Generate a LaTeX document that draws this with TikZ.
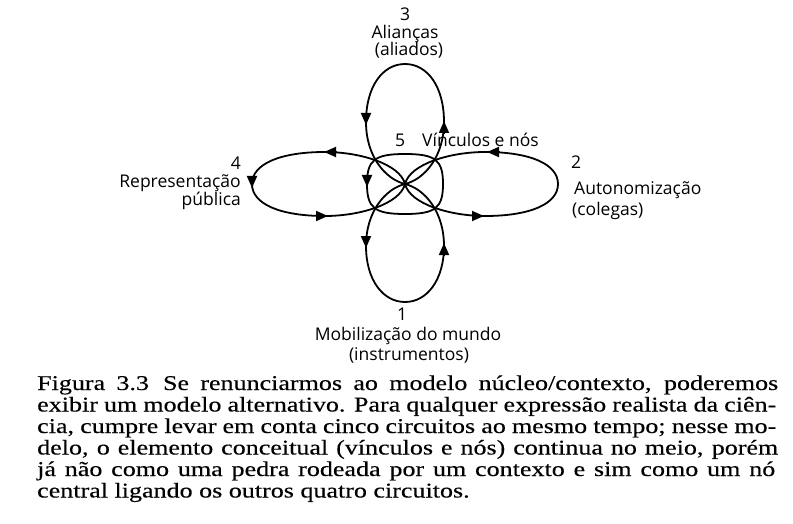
\documentclass[tikz,border=0pt]{standalone}
\usepackage{fontspec}
\setmainfont{Liberation Serif}
\newfontfamily\labfont{Open Sans}
\newfontfamily\capfont[FakeStretch=1.24,FakeBold=0.3]{Liberation Serif}
\usetikzlibrary{arrows.meta}
\begin{document}
\begin{tikzpicture}[x=1pt,y=-1pt,
  curve/.style={line width=1.8pt, line cap=round, line join=round},
  tipline/.style={-{Triangle[length=12pt,width=10pt]}, line width=1.8pt},
  lab/.style={font=\labfont\fontsize{17.5}{19}\selectfont, inner sep=0pt},
  capline/.style={font=\capfont\fontsize{21}{21.5}\selectfont, inner sep=0pt, anchor=base west}]
\useasboundingbox (0,0) rectangle (793,524);
\fill[white] (0,0) rectangle (793,524);
\begin{scope}[shift={(405,184)}]
  \coordinate (C) at (0,0);
  % top petal (3)
  \draw[curve] (C) .. controls (20,-5) and (39,-28) .. (39,-62)
     .. controls (39,-98) and (22,-120) .. (0,-120)
     .. controls (-22,-120) and (-39,-98) .. (-39,-62)
     .. controls (-39,-28) and (-20,-5) .. (C);
  % bottom petal (1)
  \draw[curve] (C) .. controls (-20,5) and (-39,28) .. (-39,62)
     .. controls (-39,96) and (-22,118) .. (0,118)
     .. controls (22,118) and (39,96) .. (39,62)
     .. controls (39,28) and (20,5) .. (C);
  % left petal (4)
  \draw[curve] (C) .. controls (-5,-20) and (-45,-32) .. (-80,-32)
     .. controls (-125,-32) and (-153,-20) .. (-153,0)
     .. controls (-153,20) and (-125,32) .. (-80,32)
     .. controls (-45,32) and (-5,20) .. (C);
  % right petal (2)
  \draw[curve] (C) .. controls (5,20) and (45,32) .. (80,32)
     .. controls (125,32) and (153,20) .. (153,0)
     .. controls (153,-20) and (125,-32) .. (80,-32)
     .. controls (45,-32) and (5,-20) .. (C);
  % central ring (5)
  \draw[curve] (0,-30) .. controls (-30.4,-30) and (-38,-24) .. (-38,0)
     .. controls (-38,24) and (-30.4,30) .. (0,30)
     .. controls (30.4,30) and (38,24) .. (38,0)
     .. controls (38,-24) and (30.4,-30) .. (0,-30) -- cycle;
  % arrowheads
  \draw[tipline] (-39,-71) -- (-39,-59);
  \draw[tipline] (39,-51) -- (39,-63);
  \draw[tipline] (-69,-32) -- (-81,-32);
  \draw[tipline] (-153,-8) -- (-153,4);
  \draw[tipline] (-89,32) -- (-77,32);
  \draw[tipline] (94,-32) -- (82,-32);
  \draw[tipline] (67,32) -- (79,32);
  \draw[tipline] (-39,52) -- (-39,64);
  \draw[tipline] (39,71) -- (39,59);
  \draw[tipline] (-38,-9) -- (-38,3);
\end{scope}
% labels
\node[lab, anchor=base] (n3) at (405,21) {3};
\node[lab, anchor=base] (t3a) at (405,39) {Alianças};
\node[lab, anchor=base] (t3b) at (409,56) {(aliados)};
\node[lab, anchor=base east] (n4) at (241,170) {4};
\node[lab, anchor=base east] (t4a) at (241,187) {Representação};
\node[lab, anchor=base east] (t4b) at (241,205) {pública};
\node[lab, anchor=base west] (n2) at (571,169) {2};
\node[lab, anchor=base west] (t2a) at (574,195) {Autonomização};
\node[lab, anchor=base west] (t2b) at (572,215) {(colegas)};
\node[lab, anchor=base] (n1) at (402,320) {1};
\node[lab, anchor=base] (t1a) at (408,340) {Mobilização do mundo};
\node[lab, anchor=base] (t1b) at (409,360) {(instrumentos)};
\node[lab, anchor=base] (n5) at (400,147) {5};
\node[lab, anchor=base west] (t5) at (422,147) {Vínculos e nós};
% caption
\node[capline] (c1) at (37,390) {\makebox[741pt][s]{Figura 3.3\hspace{14pt}Se renunciarmos ao modelo núcleo/contexto, poderemos}};
\node[capline] (c2) at (37,411.5) {\makebox[739pt][s]{exibir um modelo alternativo. Para qualquer expressão realista da ciên-}};
\node[capline] (c3) at (37,433) {\makebox[739pt][s]{cia, cumpre levar em conta cinco circuitos ao mesmo tempo; nesse mo-}};
\node[capline] (c4) at (37,454.5) {\makebox[741pt][s]{delo, o elemento conceitual (vínculos e nós) continua no meio, porém}};
\node[capline] (c5) at (37,476) {\makebox[738pt][s]{já não como uma pedra rodeada por um contexto e sim como um nó}};
\node[capline] (c6) at (37,497.5) {central ligando os outros quatro circuitos.};
\end{tikzpicture}
\end{document}
